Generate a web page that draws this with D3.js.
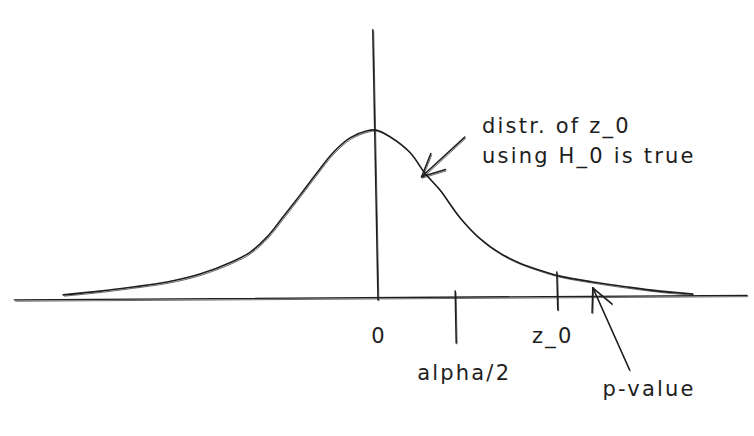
<!DOCTYPE html>
<html>
<head>
    <meta charset="UTF-8">
    <title>distr. of z_0</title>
    <style>
        body {
            margin: 0;
            padding: 0;
            background: #ffffff;
        }
        svg {
            display: block;
        }
        .label {
            font-family: "DejaVu Sans", sans-serif;
            font-size: 21px;
            letter-spacing: 2.2px;
            fill: #1e1e1e;
        }
    </style>
</head>
<body>

<script src="https://cdn.jsdelivr.net/npm/d3@7"></script>

<script>
    // density curve (z, density)
    const curveZ = [-3.91, -3.45, -3.04, -2.61, -2.2, -1.79, -1.575, -1.36, -1.16, -0.95, -0.74, -0.54,
        -0.325, -0.11, 0, 0.175, 0.425, 0.61, 0.8, 1.05, 1.3, 1.55, 1.8, 2.05, 2.3, 2.71, 3.14, 3.55, 3.96];
    const curveDensity = [0.005, 0.014, 0.024, 0.036, 0.055, 0.085, 0.107, 0.144, 0.192, 0.244, 0.297, 0.345,
        0.381, 0.398, 0.4, 0.384, 0.346, 0.297, 0.256, 0.19, 0.14, 0.105, 0.081, 0.064, 0.05, 0.036, 0.024, 0.014, 0.007];

    // ticks on the z axis
    const tickValues = [0, 0.99, 2.26];
    const tickLabels = ["0", "alpha/2", "z_0"];

    // annotations
    const noteLines = ["distr. of z_0", "using H_0 is true"];
    const noteArrow = {from: [1.11, 0.383], to: [0.57, 0.288]};
    const pArrow = {from: [3.17, -0.175], to: [2.71, 0.022]};
    const pLabel = "p-value";

    const width = 754, height = 436;

    const x = d3.scaleLinear()
        .domain([-4.5, 4.6])
        .range([16, 744]);

    const y = d3.scaleLinear()
        .domain([0, 0.4])
        .range([297, 130]);

    const svg = d3.select("body")
        .append("svg")
        .attr("width", width)
        .attr("height", height);

    const ink = "#1e1e1e";

    // draws a path twice with a small shift, like a hand sketch
    function sketch(d, w) {
        svg.append("path")
            .attr("d", d)
            .attr("fill", "none")
            .attr("stroke", ink)
            .attr("stroke-width", w || 1.6)
            .attr("stroke-linecap", "round");
        svg.append("path")
            .attr("d", d)
            .attr("fill", "none")
            .attr("stroke", ink)
            .attr("stroke-width", 0.9)
            .attr("stroke-opacity", 0.75)
            .attr("transform", "translate(0.9,1.3)");
    }

    const straight = d3.line()
        .x(d => x(d[0]))
        .y(d => y(d[1]));

    // z axis (slightly tilted, as drawn)
    sketch(straight([[-4.52, -0.007], [4.64, 0.004]]), 1.4);

    // vertical line at 0
    sketch(straight([[-0.04, 0.64], [0.025, -0.007]]), 1.5);

    // the curve
    const curve = d3.line()
        .x((d, i) => x(curveZ[i]))
        .y(d => y(d))
        .curve(d3.curveCatmullRom.alpha(0.5));

    sketch(curve(curveDensity), 1.6);

    // ticks
    tickValues.forEach(function (v, i) {
        if (i === 0) return; // the 0 tick is the vertical line
        const top = i === 1 ? 6 : 25;
        const bottom = i === 1 ? 46 : 13;
        const x0 = x(v);
        sketch("M" + x0 + "," + (y(0) - top) + "L" + (x0 + 1) + "," + (y(0) + bottom), 1.5);
    });

    svg.selectAll(".tick-label")
        .data(tickLabels)
        .join("text")
        .attr("class", "label")
        .attr("text-anchor", "middle")
        .attr("x", (d, i) => x(tickValues[i]) + (i === 1 ? 9 : i === 2 ? -4 : 3))
        .attr("y", (d, i) => y(0) + (i === 1 ? 83 : 46))
        .text(d => d);

    // arrows
    function arrow(a) {
        const x1 = x(a.from[0]), y1 = y(a.from[1]);
        const x2 = x(a.to[0]), y2 = y(a.to[1]);
        const ang = Math.atan2(y2 - y1, x2 - x1);
        const len = 25, spread = 0.45;
        sketch("M" + x1 + "," + y1 + "L" + x2 + "," + y2, 1.5);
        [-spread, spread].forEach(function (s) {
            const hx = x2 - len * Math.cos(ang + s);
            const hy = y2 - len * Math.sin(ang + s);
            sketch("M" + x2 + "," + y2 + "L" + hx + "," + hy, 1.5);
        });
    }

    arrow(noteArrow);
    arrow(pArrow);

    // note text
    svg.selectAll(".note")
        .data(noteLines)
        .join("text")
        .attr("class", "label")
        .attr("x", x(1.325))
        .attr("y", (d, i) => y(0.393) + i * 30)
        .text(d => d);

    svg.append("text")
        .attr("class", "label")
        .attr("x", x(pArrow.from[0]) - 27)
        .attr("y", y(0) + 99)
        .text(pLabel);
</script>
</body>
</html>
